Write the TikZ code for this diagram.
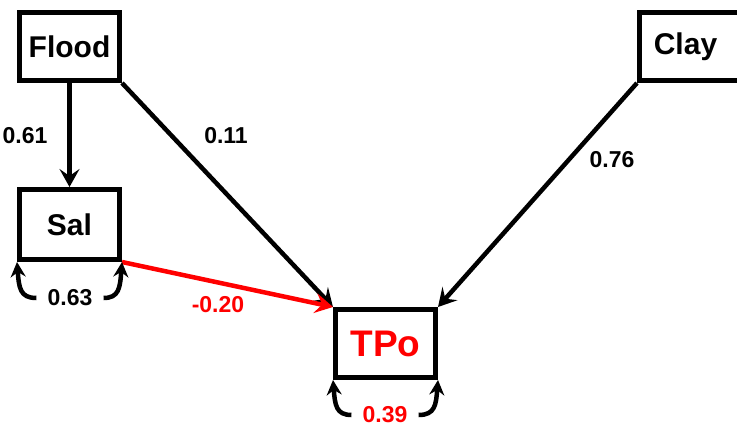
\documentclass[tikz,border=0pt]{standalone}
\usepackage{fontspec}
\setmainfont{Liberation Sans}
\usetikzlibrary{arrows.meta}
\definecolor{pathred}{RGB}{255,0,0}
\tikzset{
  varbox/.style={draw=black, line width=5pt, minimum width=100pt, minimum height=68pt, inner sep=0pt, font=\bfseries\fontsize{30}{32}\selectfont},
  arr/.style={line width=4.5pt, -{Stealth[length=18pt,width=20pt,inset=7pt]}},
  coef/.style={font=\bfseries\fontsize{23}{26}\selectfont, inner sep=1pt},
  loop/.style={line width=4.5pt, -{Stealth[length=15pt,width=15pt,inset=5pt]}}
}
\begin{document}
\begin{tikzpicture}[x=1pt,y=-1pt]
\useasboundingbox (0,0) rectangle (737,431);
\node[varbox] (flood) at (69.5,46.5) {Flood};
\node[varbox, minimum height=70pt] (sal) at (69.5,224.5) {Sal};
\node[varbox, text=pathred, font=\bfseries\fontsize{37}{40}\selectfont] (tpo) at (385.5,343.5) {TPo};
\node[varbox] (clay) at (689.5,46.5) {\hspace*{-8pt}Clay};
% paths
\draw[arr] (flood.south) -- (sal.north);
\draw[arr] (flood.south east) -- (tpo.north west);
\draw[arr] (clay.south west) -- (tpo.north east);
\draw[arr, draw=pathred, fill=pathred] (sal.south east) -- (tpo.north west);
% coefficients
\node[coef] (c061) at (25,136) {0.61};
\node[coef] (c011) at (226,136) {0.11};
\node[coef] (c076) at (612,160) {0.76};
\node[coef, text=pathred] (c020) at (218,305) {-0.20};
% residual loops
\node[coef] (c063) at (70,298) {0.63};
\coordinate (sl) at ([xshift=-10pt]c063.west);
\coordinate (sr) at ([xshift=10pt]c063.east);
\draw[loop] (sl) .. controls (20,298) and (19,288) .. (sal.south west);
\draw[loop] (sr) .. controls (119,298) and (120,288) .. (sal.south east);
\node[coef, text=pathred] (c039) at (385,415) {0.39};
\coordinate (tl) at ([xshift=-10pt]c039.west);
\coordinate (tr) at ([xshift=10pt]c039.east);
\draw[loop] (tl) .. controls (336,415) and (335,405) .. (tpo.south west);
\draw[loop] (tr) .. controls (435,415) and (436,405) .. (tpo.south east);
\end{tikzpicture}
\end{document}
